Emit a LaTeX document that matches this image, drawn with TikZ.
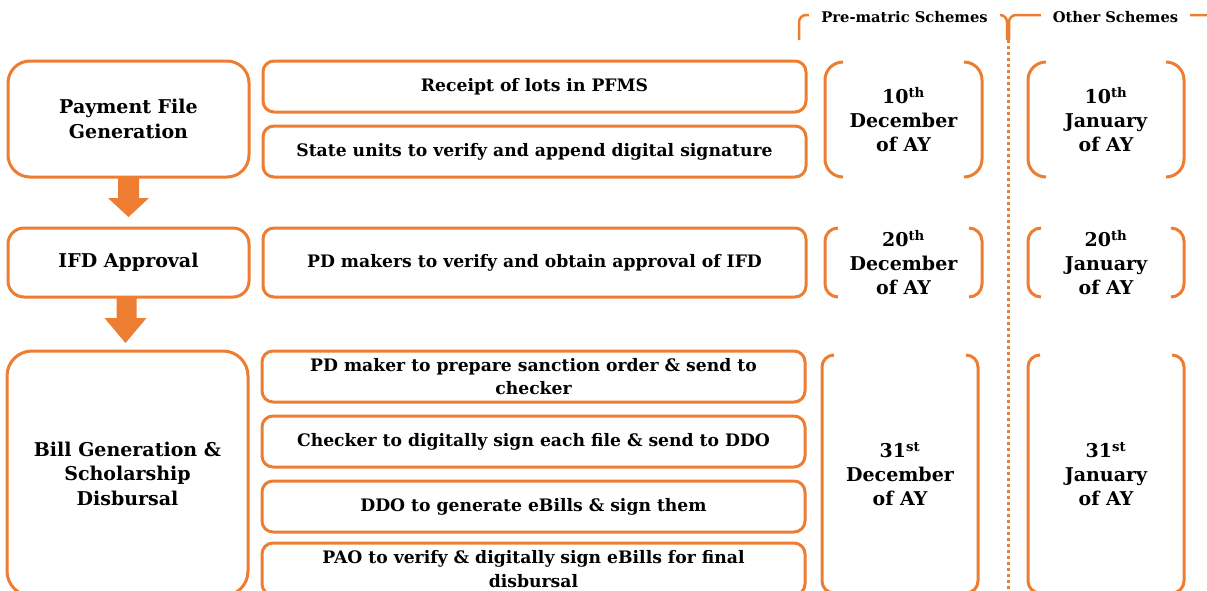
\documentclass[tikz,border=0pt]{standalone}
\usepackage{fontspec}
\setmainfont{DejaVu Serif}
\usetikzlibrary{calc}
\definecolor{org}{HTML}{ED7D31}
\newcommand\brackpair[2]{%
  \draw[brk, rounded corners=#2] ([xshift=#2]#1.north west) -- (#1.north west) -- (#1.south west) -- ([xshift=#2]#1.south west);
  \draw[brk, rounded corners=#2] ([xshift=-#2]#1.north east) -- (#1.north east) -- (#1.south east) -- ([xshift=-#2]#1.south east);}
\begin{document}
\begin{tikzpicture}[x=1pt,y=-1pt,
  box/.style={draw=org, line width=3pt, fill=white, align=center, inner sep=0pt, outer sep=0pt, anchor=north west},
  midtext/.style={box, font=\bfseries\fontsize{17.2}{23.5}\selectfont, rounded corners=11, minimum width=543, minimum height=51},
  lefttext/.style={box, font=\bfseries\fontsize{19}{24.5}\selectfont, minimum width=241},
  datetext/.style={align=center, inner sep=0pt, outer sep=0pt, anchor=north west, font=\bfseries\fontsize{19}{24}\selectfont},
  brk/.style={draw=org, line width=3pt},
  hdr/.style={fill=white, inner xsep=12pt, inner ysep=2pt, font=\bfseries\fontsize{14.7}{17}\selectfont},
  arr/.style={fill=org, draw=none}
]
\useasboundingbox (0,0) rectangle (1207,590);
\fill[white] (0,0) rectangle (1207,590);
\clip (0,0) rectangle (1207,590);

% left column
\node[lefttext, rounded corners=22, minimum height=116] (pf) at (8,61) {Payment File\\Generation};
\node[lefttext, rounded corners=16, minimum height=69] (ifd) at (8,228) {IFD Approval};
\node[lefttext, rounded corners=25, minimum height=245] (bill) at (7,351) {Bill Generation \&\\Scholarship\\Disbursal};

% middle column
\node[midtext] (r1) at (263,61) {Receipt of lots in PFMS};
\node[midtext] (r2) at (263,126) {State units to verify and append digital signature};
\node[midtext, minimum height=69] (r3) at (263,228) {PD makers to verify and obtain approval of IFD};
\node[midtext] (b1) at (262,351) {PD maker to prepare sanction order \& send to\\checker};
\node[midtext] (b2) at (262,416) {Checker to digitally sign each file \& send to DDO};
\node[midtext] (b3) at (262,481) {DDO to generate eBills \& sign them};
\node[midtext, minimum height=52] (b4) at (262,543) {PAO to verify \& digitally sign eBills for final\\disbursal};

% block arrows
\fill[arr] ($(pf.south)+(-10.5,0)$) -- ++(0,21) -- ++(-10,0) -- ($(ifd.north)+(0,-11)$)
  -- ($(pf.south)+(20.5,21)$) -- ++(-10,0) -- ++(0,-21) -- cycle;
\fill[arr] ($(ifd.south)+(-12,0)$) -- ++(0,21) -- ++(-12,0) -- ($(bill.north)+(-2,-8)$)
  -- ($(ifd.south)+(18,21)$) -- ++(-10,0) -- ++(0,-21) -- cycle;

% dates
\node[datetext, minimum width=157, minimum height=115] (d1) at (825,62) {10\textsuperscript{th}\\December\\of AY};
\node[datetext, minimum width=156, minimum height=115] (o1) at (1028,62) {10\textsuperscript{th}\\January\\of AY};
\node[datetext, minimum width=157, minimum height=69] (d2) at (825,228) {20\textsuperscript{th}\\December\\of AY};
\node[datetext, minimum width=156, minimum height=69] (o2) at (1028,228) {20\textsuperscript{th}\\January\\of AY};
\node[datetext, minimum width=156, minimum height=238] (d3) at (822,355) {31\textsuperscript{st}\\December\\of AY};
\node[datetext, minimum width=156, minimum height=238] (o3) at (1028,355) {31\textsuperscript{st}\\January\\of AY};
\brackpair{d1}{18}
\brackpair{o1}{18}
\brackpair{d2}{13}
\brackpair{o2}{13}
\brackpair{d3}{12}
\brackpair{o3}{12}

% separator
\coordinate (sepTop) at (1008,40);
\coordinate (sepBot) at (1008,595);
\draw[org, line width=3pt, dash pattern=on 3pt off 3pt] (sepTop) -- (sepBot);

% header brackets
\draw[brk, line width=2.5pt, rounded corners=7] (799,40) -- (799,15) -- (1007,15) -- (1007,40);
\draw[brk, line width=2.5pt, rounded corners=7] (1009,40) -- (1009,15) -- (1220,15);
\node[hdr] (hpre) at (904.5,17) {Pre-matric Schemes};
\node[hdr] (hoth) at (1115.5,17) {Other Schemes};
\end{tikzpicture}
\end{document}
